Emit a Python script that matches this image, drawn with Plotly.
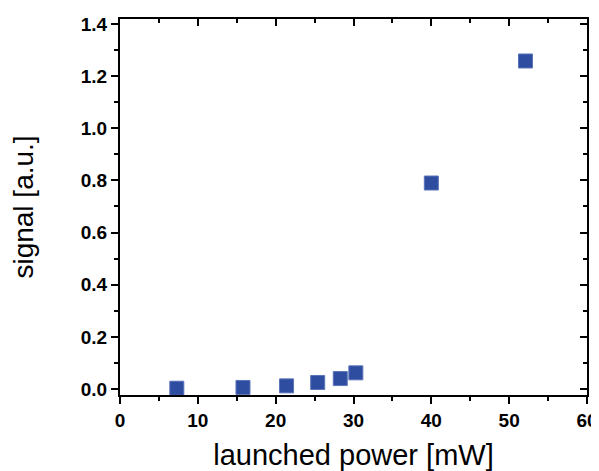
import plotly.graph_objects as go

power_mw = [7.3, 15.8, 21.4, 25.4, 28.3, 30.3, 40.0, 52.1]
signal_au = [0.003, 0.006, 0.012, 0.025, 0.04, 0.062, 0.79, 1.258]

x_title = "launched power [mW]"
y_title = "signal [a.u.]"

font_fam = "Liberation Sans, Arial, sans-serif"
marker_color = "#2E4DA0"

fig = go.Figure()
fig.add_trace(go.Scatter(
    x=power_mw, y=signal_au, mode="markers",
    marker=dict(symbol="square", size=14, color=marker_color,
                line=dict(width=1, color="#5b74b8")),
    showlegend=False, hoverinfo="x+y",
))
# invisible companion trace so the mirrored (top/right) axes are drawn
fig.add_trace(go.Scatter(
    x=power_mw, y=signal_au, mode="markers", xaxis="x2", yaxis="y2",
    marker=dict(opacity=0), showlegend=False, hoverinfo="skip",
))

xr = [0, 60]
yr = [-0.023, 1.419]

common = dict(showline=True, linecolor="black", linewidth=2, showgrid=False,
              zeroline=False, tickcolor="black", tickwidth=2, ticklen=7,
              automargin=False)

fig.update_layout(
    width=591, height=463,
    margin=dict(l=112, r=12, t=11, b=76),
    paper_bgcolor="white", plot_bgcolor="white",
    xaxis=dict(range=xr, dtick=10, tick0=0, ticks="outside",
               tickfont=dict(family=font_fam, size=19, color="black", weight="bold"),
               title=dict(text=x_title, font=dict(family=font_fam, size=29, color="black"),
                          standoff=21),
               minor=dict(dtick=5, ticks="outside", ticklen=4, tickwidth=2, tickcolor="black"),
               **common),
    yaxis=dict(range=yr, dtick=0.2, tick0=0, ticks="outside", tickformat=".1f",
               tickfont=dict(family=font_fam, size=19, color="black", weight="bold"),
               title=dict(text=y_title, font=dict(family=font_fam, size=28, color="black"),
                          standoff=42),
               minor=dict(dtick=0.1, ticks="outside", ticklen=4, tickwidth=2, tickcolor="black"),
               **common),
    xaxis2=dict(range=xr, dtick=10, tick0=0, ticks="inside", overlaying="x", side="top",
                anchor="y", showticklabels=False,
                minor=dict(dtick=5, ticks="inside", ticklen=4, tickwidth=2, tickcolor="black"),
                **common),
    yaxis2=dict(range=yr, dtick=0.2, tick0=0, ticks="inside", overlaying="y", side="right",
                anchor="x", showticklabels=False,
                minor=dict(dtick=0.1, ticks="inside", ticklen=4, tickwidth=2, tickcolor="black"),
                **common),
)

fig.write_html("out.html")
